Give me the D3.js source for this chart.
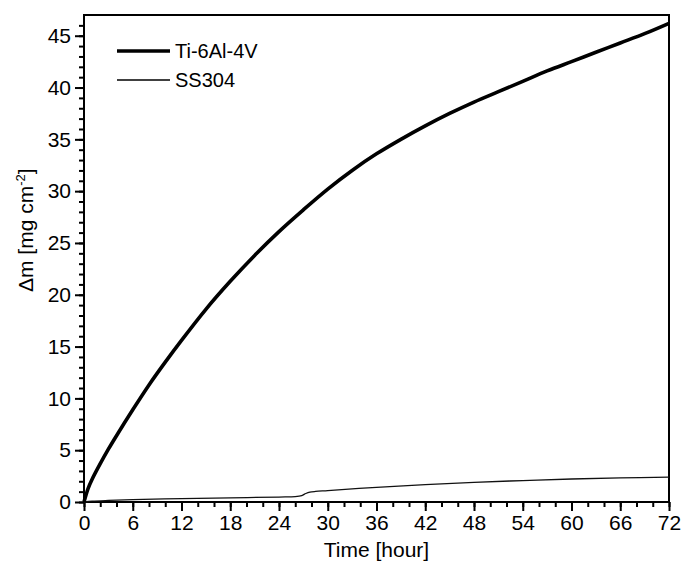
<!DOCTYPE html>
<html>
<head>
<meta charset="utf-8">
<script src="https://cdn.jsdelivr.net/npm/d3@7"></script>
<style>
  body { margin: 0; background: #fff; }
  svg { font-family: 'Liberation Sans', Arial, sans-serif; }
</style>
</head>
<body>
<svg id="chart"></svg>
<script>
// values
const tiHours = [0, 0.5, 1, 2, 3, 4, 6, 8, 10, 12, 15, 18, 21, 24, 27, 30, 33, 36, 39, 42, 45, 48, 51, 54, 57, 60, 63, 66, 69, 72];
const tiMass = [0, 1.3, 2.2, 3.7, 5.1, 6.4, 8.9, 11.3, 13.5, 15.6, 18.6, 21.3, 23.8, 26.1, 28.2, 30.2, 32.0, 33.6, 35.0, 36.3, 37.5, 38.6, 39.6, 40.6, 41.6, 42.5, 43.4, 44.3, 45.2, 46.2];
const ssHours = [0, 1, 3, 6, 12, 18, 24, 26, 26.8, 27.3, 27.8, 28.5, 30, 36, 42, 48, 54, 60, 66, 72];
const ssMass = [0, 0.08, 0.15, 0.22, 0.33, 0.4, 0.48, 0.52, 0.62, 0.82, 0.95, 1.02, 1.1, 1.42, 1.68, 1.9, 2.07, 2.22, 2.32, 2.4];
const xTicks = [0, 6, 12, 18, 24, 30, 36, 42, 48, 54, 60, 66, 72];
const yTicks = [0, 5, 10, 15, 20, 25, 30, 35, 40, 45];
const seriesNames = ['Ti-6Al-4V', 'SS304'];

const width = 686;
const height = 565;
const plotLeft = 84, plotRight = 669, plotTop = 15, plotBottom = 502;

const svg = d3.select('#chart')
  .attr('width', width)
  .attr('height', height)
  .attr('viewBox', [0, 0, width, height]);

const xScale = d3.scaleLinear().domain([0, 72]).range([plotLeft, plotRight]);
const yScale = d3.scaleLinear().domain([0, 47]).range([plotBottom, plotTop]);

// minor ticks
svg.append('g')
  .attr('transform', `translate(0,${plotBottom})`)
  .call(d3.axisBottom(xScale).tickValues(d3.range(0, 73, 2)).tickSize(5).tickFormat(''))
  .call((g) => g.select('.domain').remove())
  .selectAll('line').attr('stroke-width', 2);
svg.append('g')
  .attr('transform', `translate(${plotLeft},0)`)
  .call(d3.axisLeft(yScale).tickValues(d3.range(0, 47, 1)).tickSize(5).tickFormat(''))
  .call((g) => g.select('.domain').remove())
  .selectAll('line').attr('stroke-width', 2);

// X
const xAxis = svg.append('g')
  .attr('transform', `translate(0,${plotBottom})`)
  .call(d3.axisBottom(xScale).tickValues(xTicks).tickSize(9).tickPadding(4).tickSizeOuter(0));
xAxis.select('.domain').remove();
xAxis.selectAll('line').attr('stroke-width', 2);
xAxis.selectAll('text')
  .attr('font-size', 21)
  .attr('fill', '#000')
  .attr('font-family', "'Liberation Sans', Arial, sans-serif");

// Y
const yAxis = svg.append('g')
  .attr('transform', `translate(${plotLeft},0)`)
  .call(d3.axisLeft(yScale).tickValues(yTicks).tickSize(9).tickPadding(4).tickSizeOuter(0));
yAxis.select('.domain').remove();
yAxis.selectAll('line').attr('stroke-width', 2);
yAxis.selectAll('text')
  .attr('font-size', 21)
  .attr('fill', '#000')
  .attr('font-family', "'Liberation Sans', Arial, sans-serif");

// Frame
svg.append('rect')
  .attr('x', plotLeft)
  .attr('y', plotTop)
  .attr('width', plotRight - plotLeft)
  .attr('height', plotBottom - plotTop)
  .attr('fill', 'none')
  .attr('stroke', '#000')
  .attr('stroke-width', 2);

// Lines
const line = d3.line()
  .curve(d3.curveCatmullRom.alpha(0.5))
  .x((d) => xScale(d[0]))
  .y((d) => yScale(d[1]));

svg.append('path')
  .datum(d3.zip(ssHours, ssMass))
  .attr('fill', 'none')
  .attr('stroke', '#111')
  .attr('stroke-width', 1.3)
  .attr('d', line);

svg.append('path')
  .datum(d3.zip(tiHours, tiMass))
  .attr('fill', 'none')
  .attr('stroke', '#000')
  .attr('stroke-width', 3.6)
  .attr('stroke-linejoin', 'round')
  .attr('d', line);

// Legend
const legend = svg.append('g').attr('font-size', 20);
seriesNames.forEach((name, i) => {
  const y = 51 + i * 29;
  legend.append('line')
    .attr('x1', 117).attr('x2', 170)
    .attr('y1', y).attr('y2', y)
    .attr('stroke', '#000')
    .attr('stroke-width', i === 0 ? 3.6 : 1.3);
  legend.append('text')
    .attr('x', 175)
    .attr('y', y + 7)
    .text(name);
});

// Axis titles
svg.append('text')
  .attr('x', (plotLeft + plotRight) / 2)
  .attr('y', 557)
  .attr('text-anchor', 'middle')
  .attr('font-size', 21)
  .text('Time [hour]');

const yTitle = svg.append('text')
  .attr('transform', 'translate(33,292) rotate(-90)')
  .attr('font-size', 21);
yTitle.append('tspan').text('\u0394m [mg cm');
yTitle.append('tspan').attr('font-size', 13).attr('dy', -8).text('-2');
yTitle.append('tspan').attr('dy', 8).text(']');
</script>
</body>
</html>
